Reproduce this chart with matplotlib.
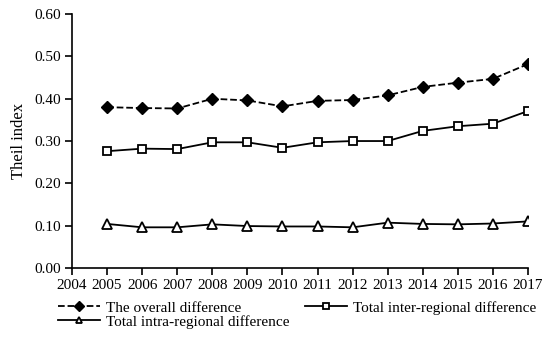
import numpy as np
import matplotlib.pyplot as plt

years = list(range(2005, 2018))
overall = [0.380, 0.378, 0.377, 0.400, 0.396, 0.382, 0.395, 0.397, 0.408, 0.428, 0.438, 0.447, 0.482]
inter = [0.276, 0.282, 0.281, 0.297, 0.297, 0.284, 0.297, 0.300, 0.300, 0.324, 0.335, 0.341, 0.371]
intra = [0.104, 0.096, 0.096, 0.103, 0.099, 0.098, 0.098, 0.096, 0.107, 0.104, 0.103, 0.105, 0.110]

plt.rcParams["font.family"] = ["Liberation Serif", "DejaVu Serif"]
plt.rcParams["font.size"] = 11

fig = plt.figure(figsize=(5.5, 3.37), dpi=100)
ax = fig.add_axes([0.131, 0.205, 0.829, 0.753])

l1, = ax.plot(years, overall, "k--", marker="D", markersize=6, lw=1.3,
              label="The overall difference")
l2, = ax.plot(years, inter, "k-", marker="s", markersize=5.5, mfc="white", mew=1.3, lw=1.3,
              label="Total inter-regional difference")
l3, = ax.plot(years, intra, "k-", marker="^", markersize=6.5, mfc="white", mew=1.3, lw=1.3,
              label="Total intra-regional difference")

ax.set_xlim(2004, 2017)
ax.set_ylim(0, 0.6)
ax.set_xticks(range(2004, 2018))
ax.set_yticks(np.arange(0, 0.61, 0.1))
ax.set_yticklabels(["%.2f" % v for v in np.arange(0, 0.61, 0.1)])
ax.set_ylabel("Theil index", labelpad=5, fontsize=12)
for s in ["top", "right"]:
    ax.spines[s].set_visible(False)
for s in ["left", "bottom"]:
    ax.spines[s].set_linewidth(1.2)
ax.tick_params(direction="out", length=5, width=1.2, pad=3)

leg = fig.legend(handles=[l1, l3, l2], ncol=2, frameon=False, loc="lower left",
                 bbox_to_anchor=(0.1055, 0.025), borderaxespad=0, borderpad=0,
                 handlelength=2.75, columnspacing=1.0,
                 labelspacing=0.0, handletextpad=0.4, fontsize=11)
for h in leg.legend_handles:
    h.set_markersize(5)

fig.savefig("out.png", dpi=100)
